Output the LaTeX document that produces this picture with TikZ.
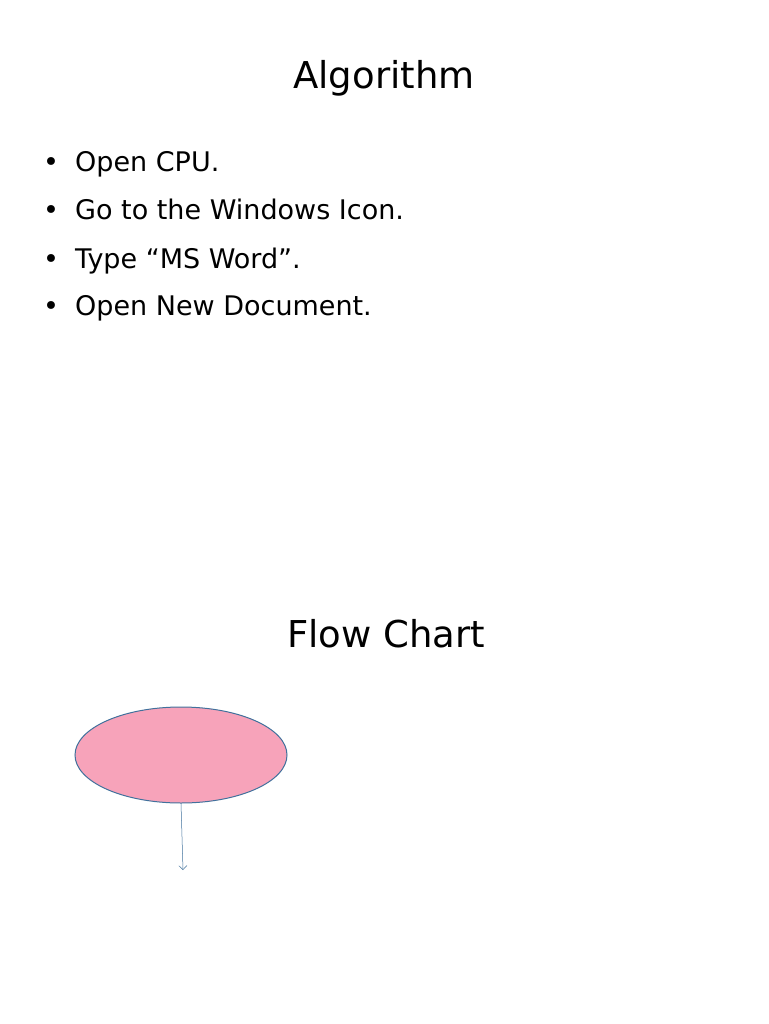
\documentclass[tikz,border=0pt]{standalone}
\usepackage{fontspec}
\setmainfont{DejaVu Sans}
\usetikzlibrary{shapes.geometric,arrows.meta}
\definecolor{pinkfill}{HTML}{F7A3BA}
\definecolor{edge}{HTML}{41719C}
\begin{document}
\begin{tikzpicture}[x=1pt,y=-1pt,
  title/.style={font=\fontsize{37}{44}\selectfont,anchor=base,inner sep=0},
  bul/.style={font=\fontsize{27}{32}\selectfont,anchor=base west,inner sep=0},
  conn/.style={draw=edge,line width=0.5pt,-{Straight Barb[length=4pt]}}]
\useasboundingbox (0,0) rectangle (768,1024);
\node[title] (t1) at (384,89) {Algorithm};
\foreach \y/\t [count=\i] in {172/Open CPU., 220/Go to the Windows Icon., 268/Type “MS Word”., 315/Open New Document.}{
  \node[bul] (b\i) at (75,\y) {\t};
  \node[bul] (d\i) at (43,\y) {•};
}
\node[title] (t2) at (386,647) {Flow Chart};
\node[ellipse,draw=edge,fill=pinkfill,line width=1pt,minimum width=212pt,minimum height=96pt] (e) at (181,755) {};
\coordinate (end) at (183,870);
\draw[conn] (e.south) -- (end);
\end{tikzpicture}
\end{document}
